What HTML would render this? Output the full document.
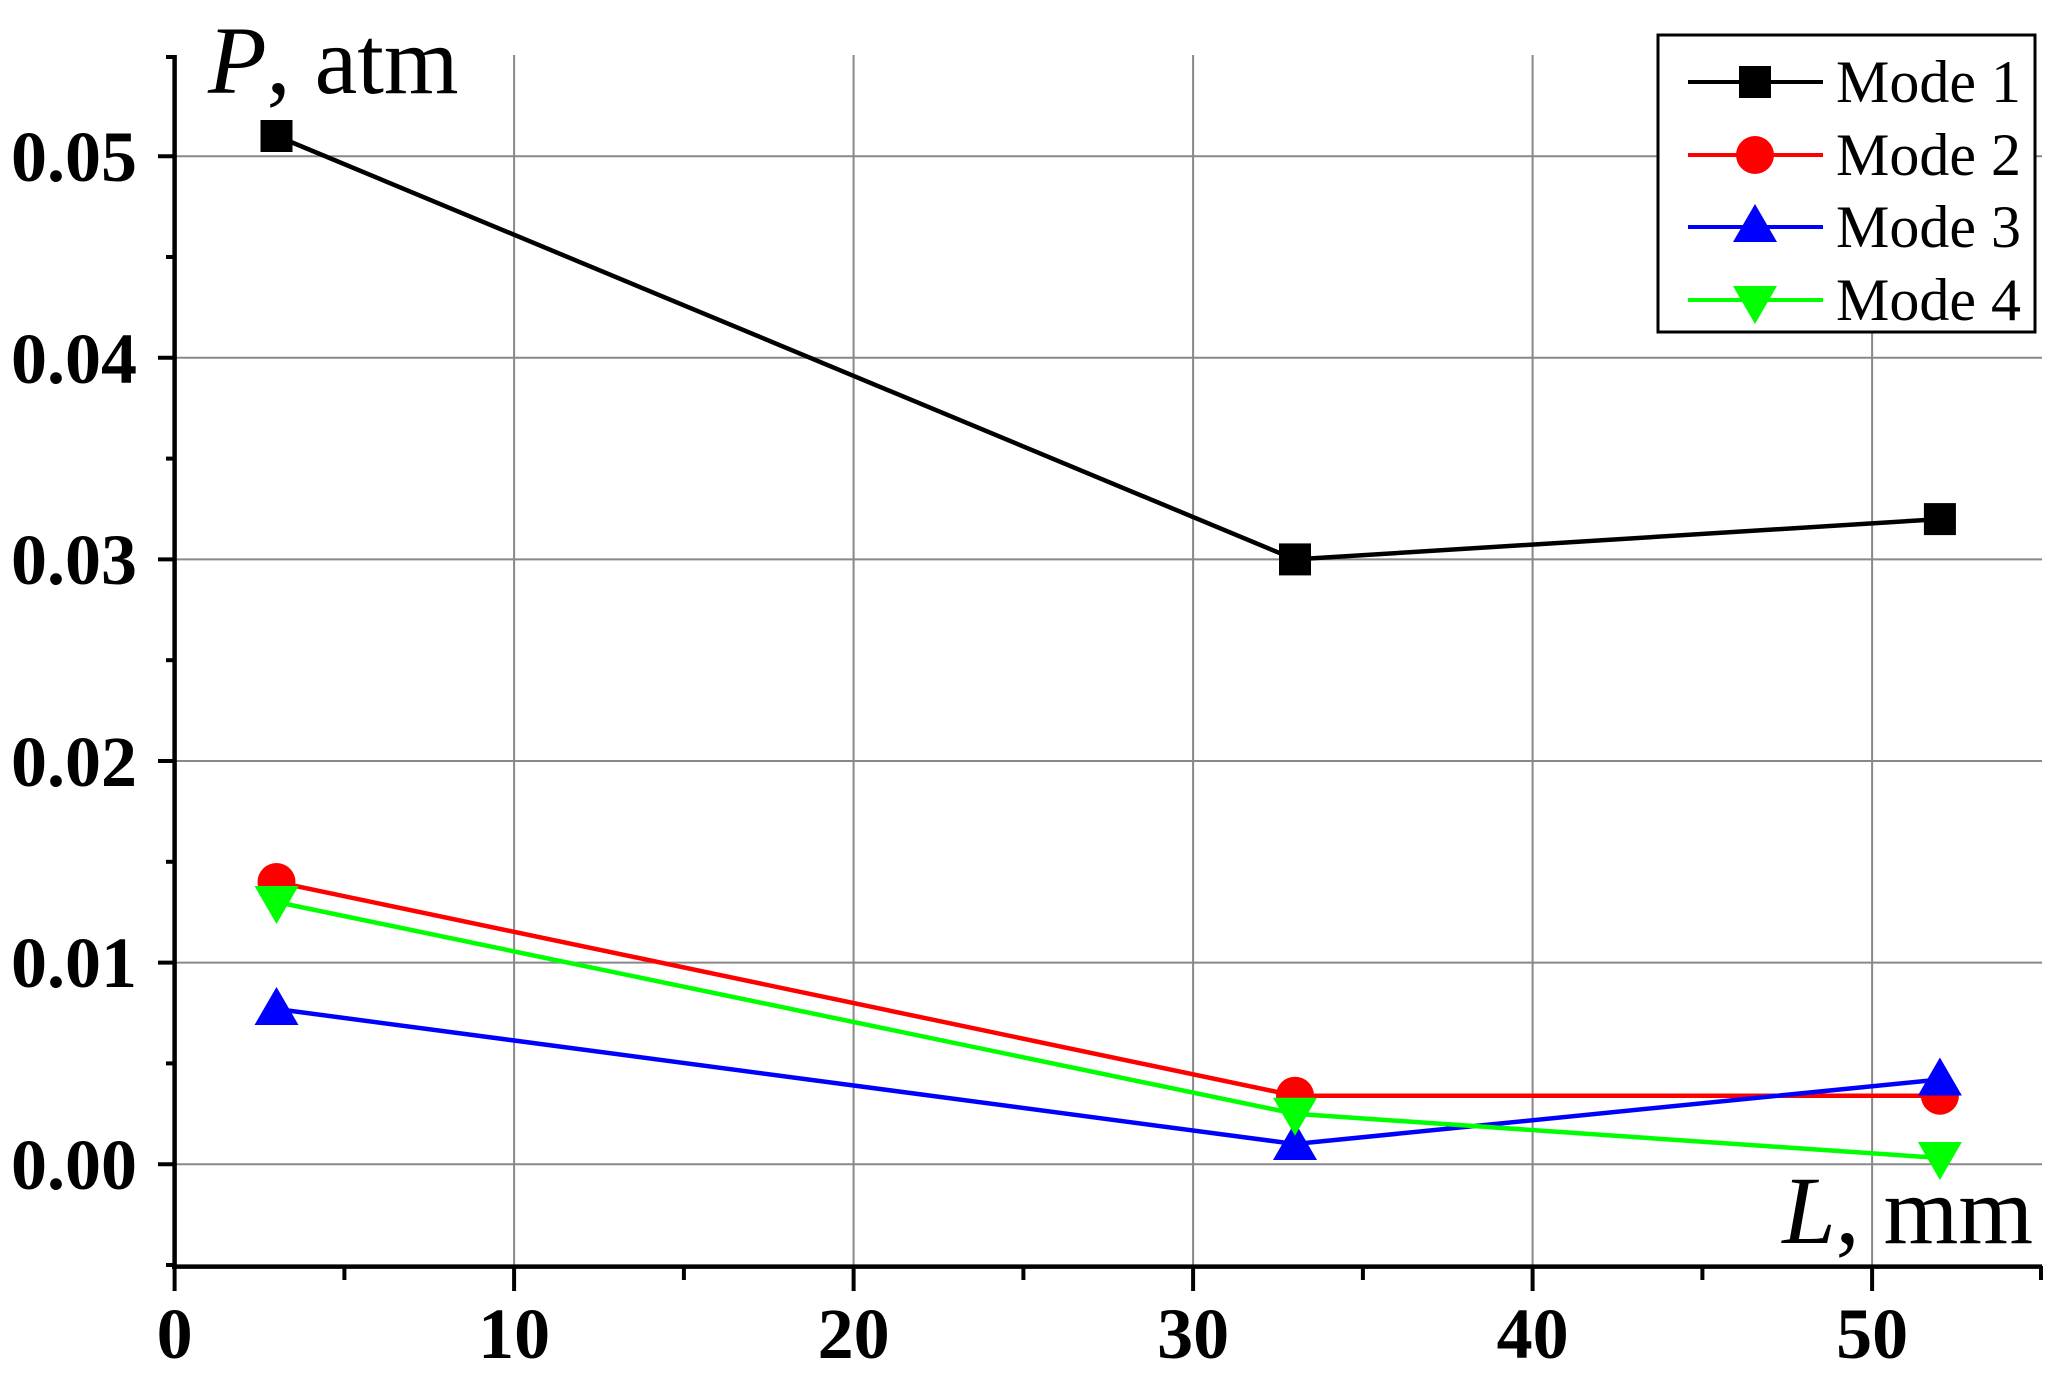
<!DOCTYPE html>
<html><head><meta charset="utf-8"><style>html,body{margin:0;padding:0;background:#fff}svg{display:block}</style></head>
<body>
<svg width="2058" height="1382" viewBox="0 0 2058 1382" xmlns="http://www.w3.org/2000/svg">
<defs>
<g id="sq"><rect x="-16" y="-16" width="32" height="32" fill="#000"/></g>
<g id="ci"><circle r="19" fill="#f00"/></g>
<g id="tu"><polygon points="0,-22 22,16 -22,16" fill="#00f"/></g>
<g id="td"><polygon points="0,22 22,-16 -22,-16" fill="#0f0"/></g>
</defs>
<g stroke="#888" stroke-width="2">
<line x1="514.1" y1="55" x2="514.1" y2="1265"/>
<line x1="853.6" y1="55" x2="853.6" y2="1265"/>
<line x1="1193.1" y1="55" x2="1193.1" y2="1265"/>
<line x1="1532.6" y1="55" x2="1532.6" y2="1265"/>
<line x1="1872.1" y1="55" x2="1872.1" y2="1265"/>
<line x1="175" y1="1164.2" x2="2042" y2="1164.2"/>
<line x1="175" y1="962.6" x2="2042" y2="962.6"/>
<line x1="175" y1="761" x2="2042" y2="761"/>
<line x1="175" y1="559.4" x2="2042" y2="559.4"/>
<line x1="175" y1="357.8" x2="2042" y2="357.8"/>
<line x1="175" y1="156.2" x2="2042" y2="156.2"/>
</g>
<g stroke="#000" stroke-width="4.5" fill="none">
<line x1="174.6" y1="55" x2="174.6" y2="1268"/>
<line x1="172" y1="1266.6" x2="2042" y2="1266.6"/>
</g>
<g stroke="#000" stroke-width="4">
<line x1="158" y1="1164.2" x2="175" y2="1164.2"/><line x1="158" y1="962.6" x2="175" y2="962.6"/><line x1="158" y1="761" x2="175" y2="761"/><line x1="158" y1="559.4" x2="175" y2="559.4"/><line x1="158" y1="357.8" x2="175" y2="357.8"/><line x1="158" y1="156.2" x2="175" y2="156.2"/>
<line x1="166" y1="1265" x2="175" y2="1265"/><line x1="166" y1="1063.4" x2="175" y2="1063.4"/><line x1="166" y1="861.8" x2="175" y2="861.8"/><line x1="166" y1="660.2" x2="175" y2="660.2"/><line x1="166" y1="458.6" x2="175" y2="458.6"/><line x1="166" y1="257" x2="175" y2="257"/><line x1="166" y1="57" x2="175" y2="57"/>
<line x1="174.6" y1="1266" x2="174.6" y2="1291"/><line x1="514.1" y1="1266" x2="514.1" y2="1291"/><line x1="853.6" y1="1266" x2="853.6" y2="1291"/><line x1="1193.1" y1="1266" x2="1193.1" y2="1291"/><line x1="1532.6" y1="1266" x2="1532.6" y2="1291"/><line x1="1872.1" y1="1266" x2="1872.1" y2="1291"/>
<line x1="344.4" y1="1266" x2="344.4" y2="1280"/><line x1="683.9" y1="1266" x2="683.9" y2="1280"/><line x1="1023.4" y1="1266" x2="1023.4" y2="1280"/><line x1="1362.9" y1="1266" x2="1362.9" y2="1280"/><line x1="1702.4" y1="1266" x2="1702.4" y2="1280"/><line x1="2041" y1="1266" x2="2041" y2="1280"/>
</g>
<g font-family="Liberation Serif, serif" font-weight="bold" font-size="72" fill="#000">
<g text-anchor="end">
<text x="137" y="1189">0.00</text><text x="137" y="987">0.01</text><text x="137" y="786">0.02</text><text x="137" y="584">0.03</text><text x="137" y="383">0.04</text><text x="137" y="181">0.05</text>
</g>
<g text-anchor="middle">
<text x="174.6" y="1358">0</text><text x="514.1" y="1358">10</text><text x="853.6" y="1358">20</text><text x="1193.1" y="1358">30</text><text x="1532.6" y="1358">40</text><text x="1872.1" y="1358">50</text>
</g>
</g>
<text x="208" y="93" font-family="Liberation Serif, serif" font-size="96" fill="#000"><tspan font-style="italic">P</tspan>, atm</text>
<text x="2033" y="1243" text-anchor="end" font-family="Liberation Serif, serif" font-size="96" fill="#000"><tspan font-style="italic">L</tspan>, mm</text>
<g fill="none" stroke-width="4.5">
<polyline stroke="#000" points="276.5,136 1295,559.4 1939.9,519.1"/>
<polyline stroke="#f00" points="276.5,882 1295,1095.7 1939.9,1095.7"/>
<polyline stroke="#00f" points="276.5,1009 1295,1144 1939.9,1079.5"/>
<polyline stroke="#0f0" points="276.5,902 1295,1113.8 1939.9,1158"/>
</g>
<use href="#sq" x="276.5" y="136"/><use href="#sq" x="1295" y="559.4"/><use href="#sq" x="1939.9" y="519.1"/>
<use href="#ci" x="276.5" y="882"/><use href="#ci" x="1295" y="1095.7"/><use href="#ci" x="1939.9" y="1095.7"/>
<use href="#tu" x="276.5" y="1009"/><use href="#tu" x="1295" y="1144"/><use href="#tu" x="1939.9" y="1079.5"/>
<use href="#td" x="276.5" y="902"/><use href="#td" x="1295" y="1113.8"/><use href="#td" x="1939.9" y="1158"/>
<rect x="1658" y="35" width="377" height="297" fill="#fff" stroke="#000" stroke-width="3"/>
<g stroke-width="4">
<line x1="1688" y1="82" x2="1823" y2="82" stroke="#000"/>
<line x1="1688" y1="155" x2="1823" y2="155" stroke="#f00"/>
<line x1="1688" y1="227" x2="1823" y2="227" stroke="#00f"/>
<line x1="1688" y1="300" x2="1823" y2="300" stroke="#0f0"/>
</g>
<use href="#sq" x="1755" y="82"/><use href="#ci" x="1755" y="155"/><use href="#tu" x="1755" y="226"/><use href="#td" x="1755" y="302"/>
<g font-family="Liberation Serif, serif" font-size="60" fill="#000">
<text x="1836" y="102">Mode 1</text><text x="1836" y="175">Mode 2</text><text x="1836" y="247">Mode 3</text><text x="1836" y="320">Mode 4</text>
</g>
</svg>
</body></html>
